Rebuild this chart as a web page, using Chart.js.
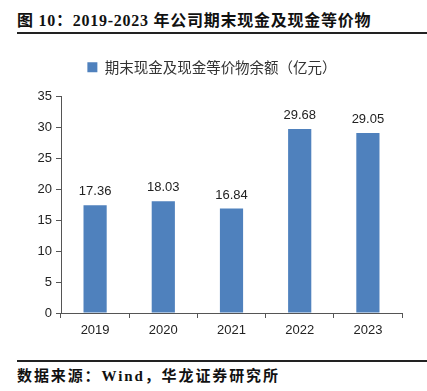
<!DOCTYPE html>
<html>
<head>
<meta charset="utf-8">
<script src="https://cdn.jsdelivr.net/npm/chart.js@4"></script>
<style>
  html, body { margin: 0; padding: 0; background: #fff; width: 427px; height: 391px; overflow: hidden; }
  #title { position: absolute; left: 17px; top: 7px; font-family: "Liberation Serif", "Noto Sans CJK SC", serif; font-weight: bold; font-size: 16px; letter-spacing: 0.75px; color: #111; white-space: nowrap; }
  #topline { position: absolute; left: 17px; top: 32px; width: 410px; height: 1.5px; background: #222; }
  #botline { position: absolute; left: 17px; top: 360px; width: 410px; height: 1.5px; background: #222; }
  #source { position: absolute; left: 17px; top: 364px; font-family: "Liberation Serif", "Noto Sans CJK SC", serif; font-weight: bold; font-size: 15px; letter-spacing: 1.9px; color: #111; white-space: nowrap; }
  #wrap { position: absolute; left: 0; top: 50px; width: 427px; height: 300px; }
</style>
</head>
<body>
<div id="title">图 10：2019-2023 年公司期末现金及现金等价物</div>
<div id="topline"></div>
<div id="wrap"><canvas id="c"></canvas></div>
<div id="botline"></div>
<div id="source">数据来源：Wind，华龙证券研究所</div>
<script>
const categories = ['2019', '2020', '2021', '2022', '2023'];
const seriesName = '期末现金及现金等价物余额（亿元）';
const values = [17.36, 18.03, 16.84, 29.68, 29.05];
const yTicks = [0, 5, 10, 15, 20, 25, 30, 35];

const legendHeight = {
  id: 'legendHeight',
  beforeInit(chart) {
    const fit = chart.legend.fit;
    chart.legend.fit = function () { fit.call(this); this.height = 46; };
  },
  afterLayout(chart) {
    chart.legend.left += 11;
    chart.legend.right += 11;
  }
};
const valueLabels = {
  id: 'valueLabels',
  afterDatasetsDraw(chart) {
    const ctx = chart.ctx;
    const meta = chart.getDatasetMeta(0);
    ctx.save();
    ctx.font = '13px "Liberation Sans", Arial, sans-serif';
    ctx.fillStyle = '#222';
    ctx.textAlign = 'center';
    ctx.textBaseline = 'bottom';
    meta.data.forEach((bar, i) => {
      ctx.fillText(values[i].toFixed(2), bar.x, bar.y - 7);
    });
    ctx.restore();
  }
};

new Chart(document.getElementById('c'), {
  type: 'bar',
  data: {
    labels: categories,
    datasets: [{
      label: seriesName,
      data: values,
      backgroundColor: '#4F81BD',
      borderWidth: 0,
      categoryPercentage: 1.0,
      barPercentage: 0.34
    }]
  },
  options: {
    responsive: true,
    maintainAspectRatio: false,
    animation: false,
    layout: { padding: { left: 0, right: 25, top: 0, bottom: 0 } },
    plugins: {
      legend: {
        display: true,
        position: 'top',
        labels: {
          boxWidth: 10,
          boxHeight: 10,
          padding: 10,
          color: '#333',
          font: { family: '"Noto Sans CJK SC", sans-serif', size: 14.5 }
        }
      },
      tooltip: { enabled: false }
    },
    scales: {
      x: {
        grid: { display: true, drawOnChartArea: false, drawTicks: true, tickLength: 5, color: '#555', offset: true },
        border: { display: true, color: '#555', width: 1 },
        ticks: { color: '#222', padding: 5, font: { family: '"Liberation Sans", Arial, sans-serif', size: 13 } },
        afterFit(scale) { scale.height = 37; }
      },
      y: {
        min: 0, max: 35,
        afterBuildTicks(scale) { scale.ticks = yTicks.map(v => ({ value: v })); },
        grid: { display: true, drawOnChartArea: false, drawTicks: true, tickLength: 5, color: '#555' },
        border: { display: true, color: '#555', width: 1 },
        ticks: { color: '#222', padding: 4, font: { family: '"Liberation Sans", Arial, sans-serif', size: 13 } },
        afterFit(scale) { scale.width = 61; }
      }
    }
  },
  plugins: [legendHeight, valueLabels]
});
</script>
</body>
</html>
